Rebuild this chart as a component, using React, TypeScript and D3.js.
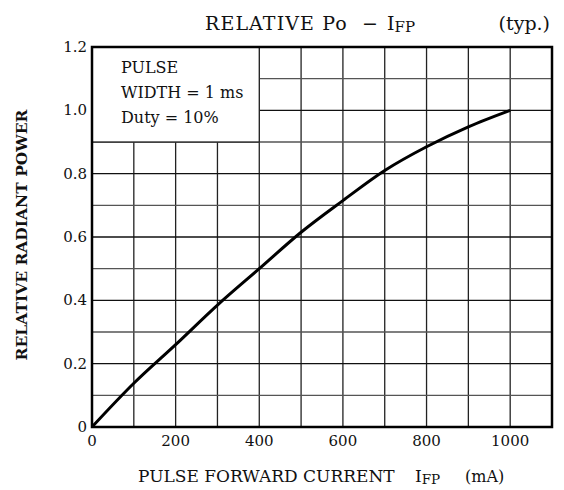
import * as d3 from 'd3';
import { useRef, useEffect } from 'react';

// Curve
const currentMA = [0, 100, 200, 300, 400, 500, 600, 700, 800, 900, 1000];
const relPower = [0, 0.138, 0.26, 0.385, 0.5, 0.615, 0.715, 0.81, 0.885, 0.948, 1.0];

const xTicks = [0, 200, 400, 600, 800, 1000];
const yTicks = [0, 0.2, 0.4, 0.6, 0.8, 1.0, 1.2];
const yTickLabels = ['0', '0.2', '0.4', '0.6', '0.8', '1.0', '1.2'];
const legendLines = ['PULSE', 'WIDTH = 1 ms', 'Duty = 10%'];

const FONT = '"DejaVu Serif", serif';

const Chart = () => {
    const svgRef = useRef<SVGSVGElement>(null);

    useEffect(() => {
        if (!svgRef.current) return;
        const W = 564, H = 490;
        const margin = { top: 47, right: 12, bottom: 63, left: 92 };
        const width = W - margin.left - margin.right;
        const height = H - margin.top - margin.bottom;

        const root = d3.select(svgRef.current);
        root.selectAll('*').remove();
        root.attr('width', W).attr('height', H);

        const svg = root.append('g')
            .attr('transform', `translate(${margin.left},${margin.top})`);

        const x = d3.scaleLinear().domain([0, 1100]).range([0, width]);
        const y = d3.scaleLinear().domain([0, 1.2]).range([height, 0]);

        // grid
        const grid = svg.append('g');
        grid.selectAll('.vx')
            .data(d3.range(100, 1100, 100))
            .enter().append('line')
            .attr('x1', d => x(d)).attr('x2', d => x(d))
            .attr('y1', 0).attr('y2', height)
            .attr('stroke', '#222').attr('stroke-width', 1.3);
        grid.selectAll('.hy')
            .data(d3.range(1, 12).map(i => i / 10))
            .enter().append('line')
            .attr('x1', 0).attr('x2', width)
            .attr('y1', d => y(d)).attr('y2', d => y(d))
            .attr('stroke', (_d, i) => (i % 2 === 1 ? '#111' : '#555'))
            .attr('stroke-width', 1.3);

        // legend box covers the grid in the corner
        svg.append('rect')
            .attr('x', 0).attr('y', 0)
            .attr('width', x(400)).attr('height', y(0.9))
            .attr('fill', '#fff')
            .attr('stroke', '#222').attr('stroke-width', 1.3);

        svg.selectAll('.leg')
            .data(legendLines)
            .enter().append('text')
            .attr('x', 29)
            .attr('y', (_d, i) => 26 + i * 25)
            .attr('font-family', FONT)
            .attr('font-size', 16)
            .attr('fill', '#111')
            .text(d => d);

        // curve
        const pts = currentMA.map((c, i) => [c, relPower[i]] as [number, number]);
        svg.append('path')
            .datum(pts)
            .attr('fill', 'none')
            .attr('stroke', '#000')
            .attr('stroke-width', 3)
            .attr('stroke-linejoin', 'round')
            .attr('d', d3.line<[number, number]>()
                .x(d => x(d[0]))
                .y(d => y(d[1]))
                .curve(d3.curveMonotoneX));

        // frame
        svg.append('rect')
            .attr('width', width).attr('height', height)
            .attr('fill', 'none').attr('stroke', '#000').attr('stroke-width', 2.5);

        // tick labels
        svg.selectAll('.xt')
            .data(xTicks)
            .enter().append('text')
            .attr('x', d => x(d))
            .attr('y', height + 19)
            .attr('text-anchor', 'middle')
            .attr('font-family', FONT)
            .attr('font-size', 15)
            .attr('fill', '#111')
            .text(d => String(d));
        svg.selectAll('.yt')
            .data(yTicks)
            .enter().append('text')
            .attr('x', -5)
            .attr('y', d => y(d) + 5)
            .attr('text-anchor', 'end')
            .attr('font-family', FONT)
            .attr('font-size', 15)
            .attr('fill', '#111')
            .text((_d, i) => yTickLabels[i]);

        // title
        const title = root.append('g')
            .attr('font-family', FONT).attr('font-size', 19).attr('fill', '#111');
        title.append('text').attr('x', 205).attr('y', 30)
            .attr('letter-spacing', 1.1).text('RELATIVE Po');
        title.append('text').attr('x', 362).attr('y', 30).text('\u2212');
        const ifp = title.append('text').attr('x', 387).attr('y', 30);
        ifp.append('tspan').text('I');
        ifp.append('tspan').attr('font-size', 15).attr('dy', 2).text('FP');
        title.append('text')
            .attr('x', 550).attr('y', 30)
            .attr('text-anchor', 'end')
            .text('(typ.)');

        // x axis label
        const xl = root.append('g')
            .attr('font-family', FONT).attr('font-size', 17).attr('fill', '#111');
        xl.append('text').attr('x', 138).attr('y', 482).text('PULSE FORWARD CURRENT');
        const xi = xl.append('text').attr('x', 415).attr('y', 482);
        xi.append('tspan').text('I');
        xi.append('tspan').attr('font-size', 13.5).attr('dy', 2).text('FP');
        xl.append('text').attr('x', 465).attr('y', 482).attr('font-size', 16).text('(mA)');

        // y axis label
        root.append('text')
            .attr('transform', `translate(27,${margin.top + height / 2 - 2}) rotate(-90)`)
            .attr('text-anchor', 'middle')
            .attr('font-family', FONT).attr('font-size', 15.5)
            .attr('font-weight', 'bold')
            .attr('fill', '#111')
            .text('RELATIVE RADIANT POWER');
    }, []);

    return <svg ref={svgRef} style={{ position: 'absolute', left: 0, top: 0, background: '#fff' }} />;
};

export default function App() {
    return <Chart />;
}
